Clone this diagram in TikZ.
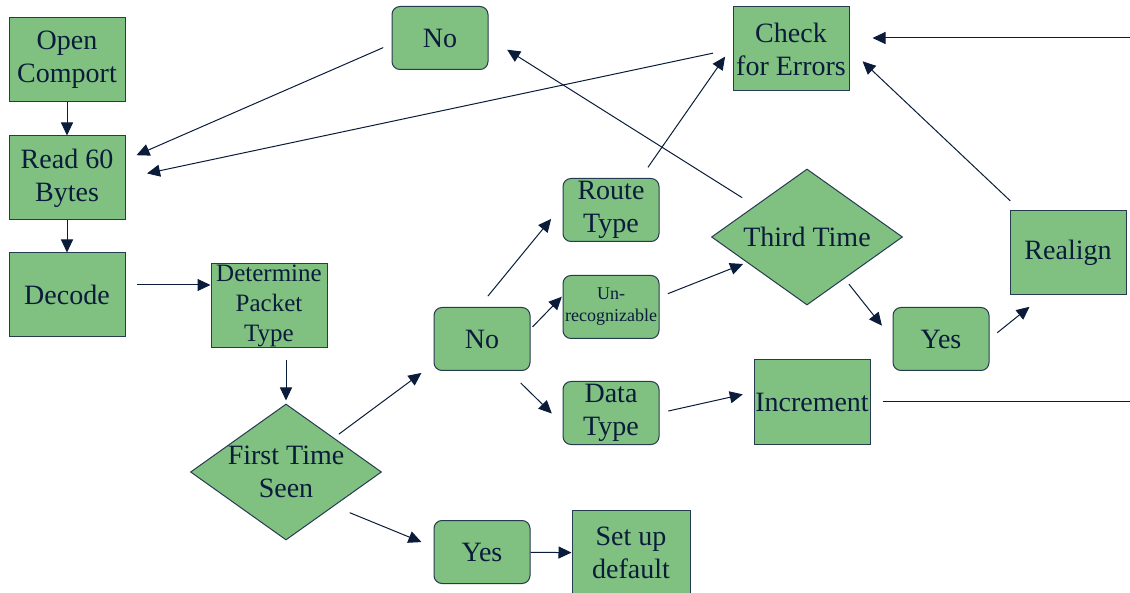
\documentclass[tikz,border=0pt]{standalone}
\usepackage{fontspec}
\setmainfont{Liberation Serif}
\usetikzlibrary{shapes.geometric,arrows.meta}
\definecolor{boxgreen}{RGB}{128,192,128}
\definecolor{edgeblue}{RGB}{38,58,80}
\definecolor{inknavy}{RGB}{10,28,58}

\begin{document}
\begin{tikzpicture}[x=1pt, y=-1pt,
    base/.style={draw=edgeblue, fill=boxgreen, line width=1pt, text=inknavy, align=center, font=\fontsize{28}{33}\selectfont, inner sep=0pt},
    box/.style={base, minimum width=116pt, minimum height=84pt},
    rbox/.style={base, rounded corners=8pt, minimum width=96pt, minimum height=63pt},
    decision/.style={base, diamond, aspect=1.4, inner sep=-4pt, minimum width=191pt, minimum height=136pt},
    link/.style={draw=inknavy, line width=1pt, -{Triangle[length=13pt,width=12pt]}},
    plain/.style={draw=inknavy, line width=1pt}
  ]
    \useasboundingbox (0,0) rectangle (1130,593);

    % left column
    \node[box] (open) at (67,60) {Open\\Comport};
    \node[box] (read) at (67,178) {Read 60\\Bytes};
    \node[box] (decode) at (67,295) {Decode};
    \node[box, font=\fontsize{25}{30}\selectfont] (packet) at (269,306) {Determine\\Packet\\Type};
    \node[decision] (first) at (286,472) {First Time\\Seen};

    % first decision outcomes
    \node[rbox] (nofirst) at (482,339) {No};
    \node[rbox] (yesfirst) at (482,552) {Yes};
    \node[box, minimum width=118pt, minimum height=86pt] (setup) at (631,553) {Set up\\default};

    % packet kinds
    \node[rbox] (route) at (611,210) {Route\\Type};
    \node[rbox, font=\fontsize{18}{22}\selectfont] (unrec) at (611,307) {Un-\\recognizable};
    \node[rbox] (data) at (611,413) {Data\\Type};

    % right part
    \node[decision] (third) at (807,237) {Third Time};
    \node[rbox] (yesthird) at (941,339) {Yes};
    \node[rbox] (nothird) at (440,38) {No};
    \node[box] (incr) at (812,402) {Increment};
    \node[box] (realign) at (1068,253) {Realign};
    \node[box] (check) at (791,49) {Check\\for Errors};
    \coordinate (feedin) at (1130,38);
    \coordinate (feedout) at (1130,402);

    \draw[link] (open) -- (read);
    \draw[link] (read) -- (decode);
    \draw[link, shorten <=11pt] ([yshift=10pt]decode.east) -- ([yshift=10pt]decode.east -| packet.west);
    \draw[link, shorten <=12pt, shorten >=3pt] (first.north |- packet.south) -- (first.north);
    \draw[link, shorten <=6pt, shorten >=15pt] (first.north east) -- ([yshift=-25pt]nofirst.west);
    \draw[link, shorten <=17pt, shorten >=13pt] (first.south east) -- ([yshift=5pt]yesfirst.west);
    \draw[link] (yesfirst) -- (setup);

    \draw[link, shorten <=14pt, shorten >=18pt] ([xshift=-3pt]nofirst.north) -- ([yshift=5pt]route.west);
    \draw[link, shorten <=3pt, shorten >=1pt] ([yshift=10pt]nofirst.east) -- ([yshift=11pt]unrec.west);
    \draw[link, shorten <=17pt, shorten >=15pt] ([xshift=-22pt]nofirst.south east) -- ([yshift=-11pt]data.west);

    \draw[link, shorten <=13pt, shorten >=13pt] ([xshift=-19pt]route.north east) -- ([yshift=3pt]check.west);
    \draw[link, shorten <=9pt, shorten >=4pt] ([yshift=10pt]unrec.east) -- (third.203);
    \draw[link, shorten <=9pt, shorten >=11pt] (data.east) -- ([yshift=10pt]incr.west);

    \draw[link, shorten <=15pt, shorten >=22pt] (third.149) -- (nothird.east);
    \draw[link, shorten <=7pt, shorten >=17pt] (third.312) -- (yesthird.west);
    \draw[link, shorten <=10pt, shorten >=18pt] (yesthird.east) -- ([xshift=34pt]realign.south west);
    \draw[link, shorten <=14pt, shorten >=18pt] ([xshift=11pt]realign.north west) -- (check.east);
    \draw[link, shorten >=23pt] (feedin) -- ([yshift=11pt]check.east);
    \draw[plain, shorten <=12pt] (incr.east) -- (feedout);

    \draw[link, shorten <=20pt, shorten >=22pt] (check.west) -- (read.east);
    \draw[link, shorten <=9pt, shorten >=12pt] ([yshift=-6pt]nothird.west) -- ([yshift=18pt]read.east);
  \end{tikzpicture}
\end{document}
